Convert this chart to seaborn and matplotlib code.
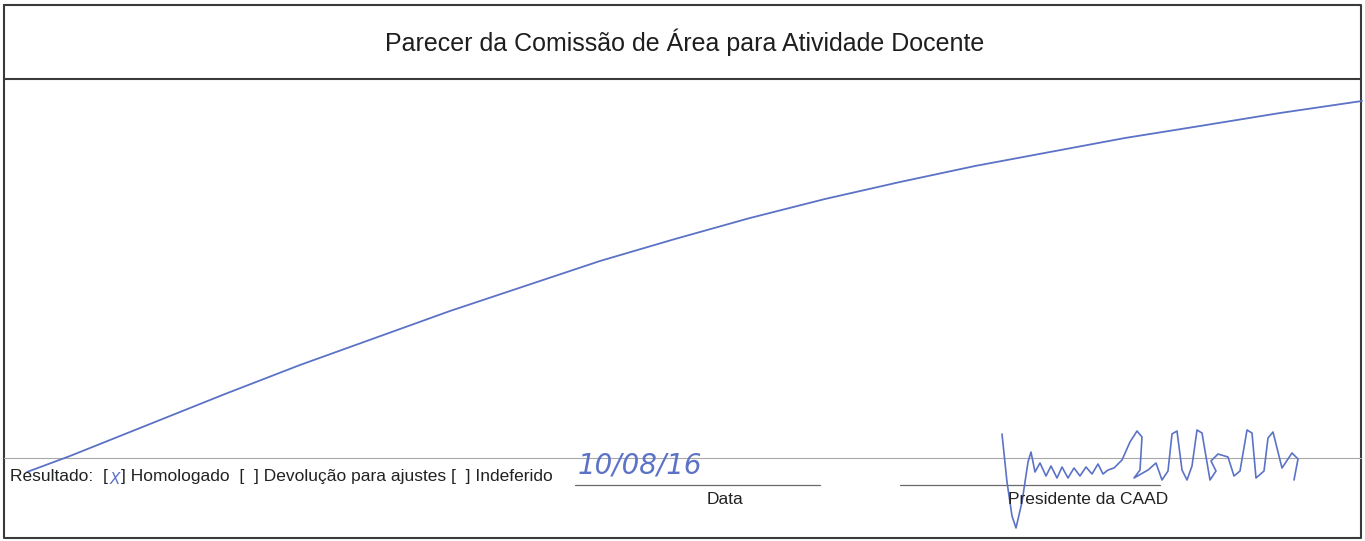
import matplotlib
matplotlib.use('Agg')
import matplotlib.pyplot as plt
import seaborn as sns
import pandas as pd

# blue pen stroke crossing the comment box (pixel coords of the scan)
stroke_x = [27, 70, 150, 225, 300, 375, 450, 525, 600, 675, 750, 825, 900, 975,
            1050, 1125, 1200, 1280, 1362]
stroke_y = [472, 456, 424, 394, 365, 338, 311, 286, 261, 239, 218, 199, 182, 166,
            152, 138, 126, 113, 101]

# rough signature stroke above "Presidente da CAAD"
sig_x = [1002, 1007, 1012, 1016, 1022, 1028, 1031, 1035, 1040, 1046, 1051, 1057, 1062, 1068,
         1074, 1080, 1086, 1092, 1098, 1103, 1108, 1114, 1122, 1130, 1137, 1142, 1140, 1134,
         1148, 1156, 1162, 1168, 1172, 1177, 1182, 1187, 1192, 1197, 1202, 1210, 1216, 1211,
         1218, 1228, 1234, 1240, 1247, 1252, 1256, 1264, 1268, 1273, 1282, 1292, 1298, 1294]
sig_y = [434, 482, 516, 528, 502, 462, 452, 472, 463, 476, 466, 478, 467, 478,
         468, 476, 467, 474, 464, 474, 470, 468, 460, 442, 431, 437, 470, 478,
         470, 463, 480, 471, 434, 431, 470, 480, 466, 430, 433, 480, 471, 461,
         454, 457, 476, 471, 430, 433, 478, 471, 438, 432, 468, 453, 459, 480]

title = 'Parecer da Comissão de Área para Atividade Docente'
result_parts = ['Resultado:  [', 'X', '] Homologado  [  ] Devolução para ajustes [  ] Indeferido']
date_text = '10/08/16'
date_label = 'Data'
sign_label = 'Presidente da CAAD'

W, H = 1365, 541
pen = '#5b72c6'
ink = '#222222'

sns.set_theme(style='white')
plt.rcParams['font.family'] = ['Liberation Sans', 'DejaVu Sans']

fig = plt.figure(figsize=(W / 100, H / 100), dpi=100)
ax = fig.add_axes([0, 0, 1, 1])
ax.set_xlim(0, W)
ax.set_ylim(H, 0)
ax.axis('off')

# form frame
ax.plot([4, 1361, 1361, 4, 4], [5, 5, 538, 538, 5], color='#3a3a3a', lw=1.5)
ax.plot([4, 1361], [79, 79], color='#3a3a3a', lw=1.5)
ax.plot([4, 1361], [458, 458], color='#a8a8a8', lw=0.8)
ax.plot([575, 820], [485, 485], color='#6a6a6a', lw=0.9)
ax.plot([900, 1160], [485, 485], color='#6a6a6a', lw=0.9)

ax.text(685, 42, title, ha='center', va='center', fontsize=18, color='#1e1e1e')

# result line, the first box is checked by hand (blue X)
inv = ax.transData.inverted()
x_pos = 10
for i, part in enumerate(result_parts):
    if i == 1:
        t = ax.text(x_pos + 1, 479, part, ha='left', va='center', fontsize=11,
                    color=pen, family='DejaVu Sans', fontstyle='italic')
    else:
        t = ax.text(x_pos, 477, part, ha='left', va='center', fontsize=12.5, color=ink)
    fig.canvas.draw()
    bb = t.get_window_extent().transformed(inv)
    x_pos = max(bb.x0, bb.x1) + 1

ax.text(640, 466, date_text, ha='center', va='center', fontsize=20, color=pen,
        family='DejaVu Sans', fontstyle='italic')
ax.text(725, 500, date_label, ha='center', va='center', fontsize=12.5, color=ink)
ax.text(1088, 500, sign_label, ha='center', va='center', fontsize=12.5, color=ink)

df_stroke = pd.DataFrame({'x': stroke_x, 'y': stroke_y})
sns.lineplot(data=df_stroke, x='x', y='y', sort=False, estimator=None, color=pen, lw=1.3, ax=ax)
df_sig = pd.DataFrame({'x': sig_x, 'y': sig_y})
sns.lineplot(data=df_sig, x='x', y='y', sort=False, estimator=None, color=pen, lw=1.2, ax=ax)
ax.set_xlim(0, W)
ax.set_ylim(H, 0)
ax.axis('off')

fig.savefig('out.png', dpi=100)
plt.close(fig)
